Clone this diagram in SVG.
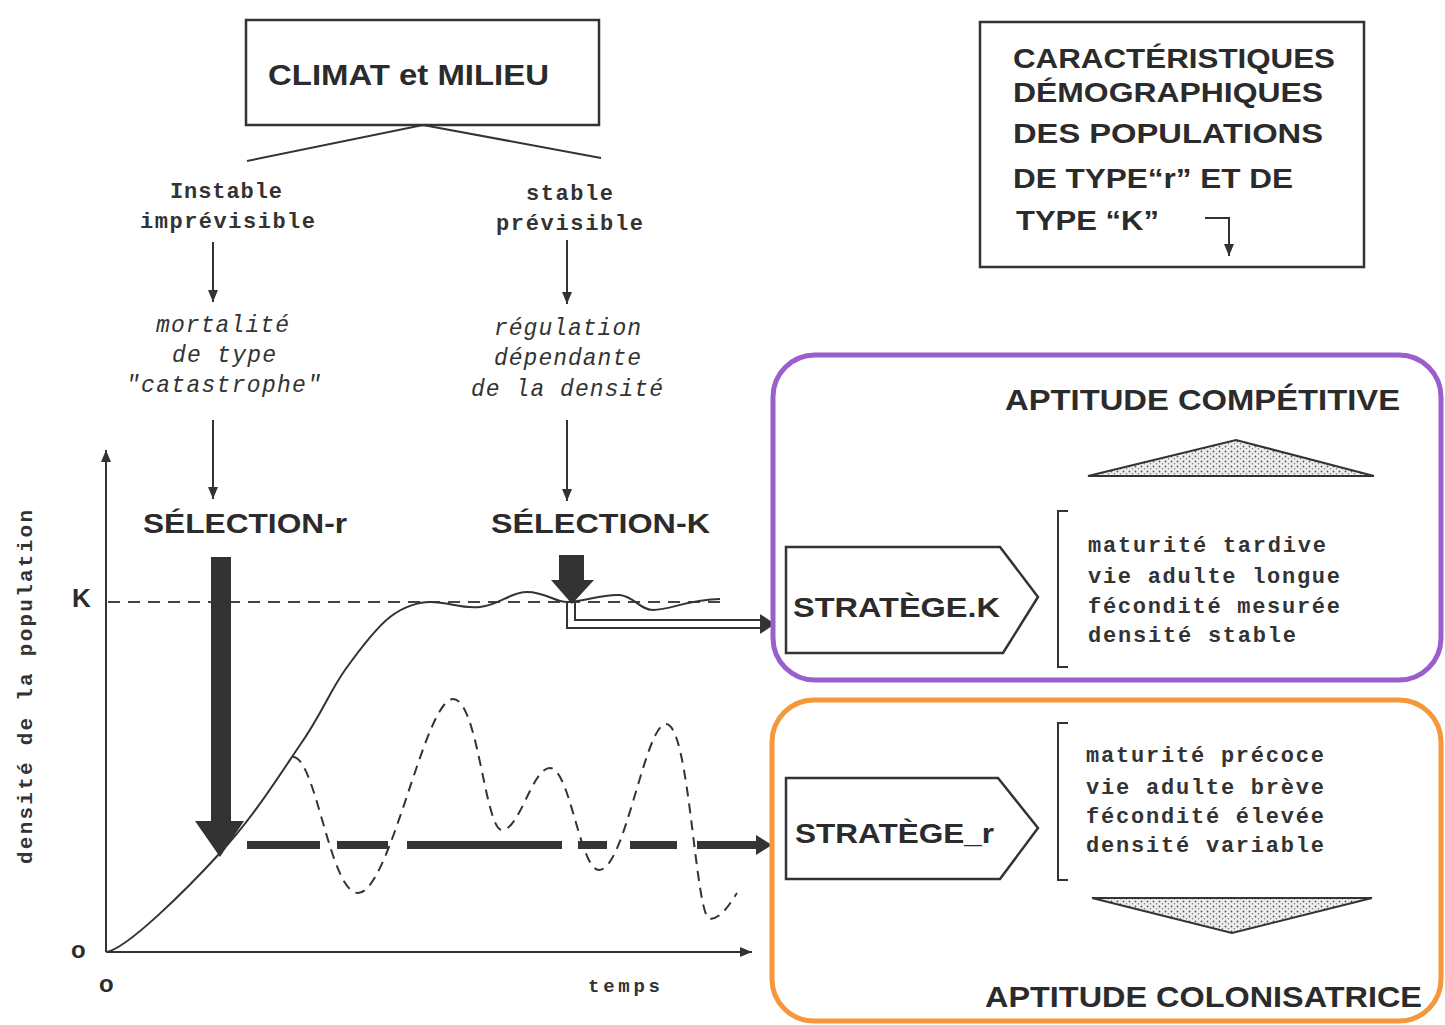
<svg xmlns="http://www.w3.org/2000/svg" width="1445" height="1025" viewBox="0 0 1445 1025">
<style>
.box{fill:none;stroke:#333;stroke-width:2.5}
.hd{font-family:"Liberation Sans",Arial,sans-serif;font-weight:bold;fill:#2b2b2b}
.mono{font-family:"Liberation Mono","Courier New",monospace;font-weight:bold;fill:#333}
.it{font-family:"Liberation Mono","Courier New",monospace;font-style:italic;fill:#333}
.ln{stroke:#333;stroke-width:2;fill:none}
.dark{fill:#333;stroke:none}
</style>
<defs>
<marker id="ah" markerUnits="userSpaceOnUse" markerWidth="14" markerHeight="12" refX="12" refY="6" orient="auto">
<path d="M0,1 L12,6 L0,11 z" fill="#333"/>
</marker>
<pattern id="dots" width="6" height="5" patternUnits="userSpaceOnUse">
<rect width="6" height="5" fill="#eeeeee"/>
<circle cx="1.5" cy="1.5" r="0.9" fill="#555"/>
<circle cx="4.5" cy="3.8" r="0.8" fill="#777"/>
</pattern>
</defs>
<rect width="1445" height="1025" fill="#ffffff"/>

<g id="climat">
<rect class="box" x="246" y="20" width="353" height="105"/>
<text class="hd" x="268" y="85" font-size="29" textLength="281" lengthAdjust="spacingAndGlyphs">CLIMAT et MILIEU</text>
</g>

<g id="instable">
<text class="mono" x="170" y="198" font-size="22" textLength="112" lengthAdjust="spacing">Instable</text>
<text class="mono" x="140" y="228" font-size="22" textLength="175" lengthAdjust="spacing">imprévisible</text>
</g>
<g id="stable">
<text class="mono" x="526" y="200" font-size="22" textLength="87" lengthAdjust="spacing">stable</text>
<text class="mono" x="496" y="230" font-size="22" textLength="147" lengthAdjust="spacing">prévisible</text>
</g>
<g id="mortalite">
<text class="it" x="156" y="332" font-size="23" textLength="133" lengthAdjust="spacing">mortalité</text>
<text class="it" x="172" y="362" font-size="23" textLength="104" lengthAdjust="spacing">de type</text>
<text class="it" x="126" y="392" font-size="23" textLength="195" lengthAdjust="spacing">"catastrophe"</text>
</g>
<g id="regulation">
<text class="it" x="494" y="335" font-size="23" textLength="147" lengthAdjust="spacing">régulation</text>
<text class="it" x="494" y="365" font-size="23" textLength="147" lengthAdjust="spacing">dépendante</text>
<text class="it" x="471" y="396" font-size="23" textLength="192" lengthAdjust="spacing">de la densité</text>
</g>
<g id="selection-r">
<text class="hd" x="143" y="533" font-size="27" textLength="204" lengthAdjust="spacingAndGlyphs">SÉLECTION-r</text>
</g>
<g id="selection-k">
<text class="hd" x="491" y="533" font-size="27" textLength="219" lengthAdjust="spacingAndGlyphs">SÉLECTION-K</text>
</g>

<g id="caracteristiques">
<rect class="box" x="980" y="22" width="384" height="245"/>
<text class="hd" font-size="27">
<tspan x="1013" y="68" textLength="322" lengthAdjust="spacingAndGlyphs">CARACTÉRISTIQUES</tspan>
<tspan x="1013" y="102" textLength="310" lengthAdjust="spacingAndGlyphs">DÉMOGRAPHIQUES</tspan>
<tspan x="1013" y="143" textLength="310" lengthAdjust="spacingAndGlyphs">DES POPULATIONS</tspan>
<tspan x="1013" y="188" textLength="280" lengthAdjust="spacingAndGlyphs">DE TYPE“r” ET DE</tspan>
<tspan x="1016" y="230" textLength="143" lengthAdjust="spacingAndGlyphs">TYPE “K”</tspan>
</text>
<path class="ln" d="M1205,218 H1229 V256" marker-end="url(#ah)"/>
</g>

<g id="graph">
<line class="ln" x1="106" y1="952" x2="106" y2="450" marker-end="url(#ah)"/>
<line class="ln" x1="106" y1="952" x2="752" y2="952" marker-end="url(#ah)"/>
<line x1="108" y1="602" x2="720" y2="602" stroke="#444" stroke-width="2" stroke-dasharray="12,8"/>
<text class="hd" x="72" y="607" font-size="26">K</text>
<text class="hd" x="71" y="958" font-size="24">o</text>
<text class="hd" x="99" y="992" font-size="24">o</text>
<text class="mono" x="588" y="992" font-size="19" font-weight="normal" textLength="72" lengthAdjust="spacing">temps</text>
<text class="mono" font-size="21" font-weight="normal" transform="translate(32,864) rotate(-90)" textLength="354" lengthAdjust="spacing">densité de la population</text>
<path class="ln" d="M106,952 C126,950 188,888 220,853 C252,819 279,776 300,745 C321,715 330,691 345,670 C360,649 376,628 390,617 C404,606 420,602 430,602 C450,602 460,609 480,607 C500,605 510,592 527,592 C545,592 555,602 567,602 C585,602 600,594 620,595 C635,597 640,610 653,610 C670,610 690,599 720,599"/>
<path class="ln" stroke-dasharray="10,7" d="M293,757 C316,757 330,893 358,893 C390,893 425,699 453,699 C478,699 485,830 502,830 C520,830 532,768 550,768 C570,768 580,870 599,870 C625,870 645,724 666,724 C690,724 695,919 710,919 C722,919 732,900 737,893"/>
</g>

<g id="connectors">
<line class="ln" x1="213" y1="242" x2="213" y2="302" marker-end="url(#ah)"/>
<line class="ln" x1="567" y1="240" x2="567" y2="304" marker-end="url(#ah)"/>
<line class="ln" x1="213" y1="420" x2="213" y2="499" marker-end="url(#ah)"/>
<line class="ln" x1="567" y1="420" x2="567" y2="501" marker-end="url(#ah)"/>
<path class="ln" d="M247,161 L423,125 L601,158"/>
<polygon class="dark" points="211,557 231,557 231,821 244,821 220,857 195,821 211,821"/>
<polygon class="dark" points="559,555 584,555 584,580 594,580 572,604 551,580 559,580"/>
<path class="ln" d="M567,603 V628 H764"/>
<path class="ln" d="M575,603 V620 H764"/>
<polygon class="dark" points="760,614 775,624 760,634"/>
<g stroke="#353535" stroke-width="8">
<line x1="247" y1="845" x2="320" y2="845"/>
<line x1="337" y1="845" x2="388" y2="845"/>
<line x1="407" y1="845" x2="562" y2="845"/>
<line x1="578" y1="845" x2="607" y2="845"/>
<line x1="630" y1="845" x2="677" y2="845"/>
<line x1="697" y1="845" x2="760" y2="845"/>
</g>
<polygon class="dark" points="756,835 772,845 756,855"/>
</g>

<g id="strategie-k">
<rect x="773" y="355" width="668" height="325" rx="42" fill="none" stroke="#9a5fcc" stroke-width="5"/>
<text class="hd" x="1005" y="410" font-size="30" textLength="395" lengthAdjust="spacingAndGlyphs">APTITUDE COMPÉTITIVE</text>
<polygon points="1088,476 1236,440 1374,476" fill="url(#dots)" stroke="#333" stroke-width="2"/>
<polygon class="box" points="786,547 1000,547 1038,597 1003,653 786,653"/>
<text class="hd" x="793" y="617" font-size="28" textLength="207" lengthAdjust="spacingAndGlyphs">STRATÈGE.K</text>
<path class="ln" d="M1068,511 H1058 V667 H1068"/>
<text class="mono" x="1088" y="552" font-size="22" textLength="238" lengthAdjust="spacing">maturité tardive</text>
<text class="mono" x="1088" y="583" font-size="22" textLength="252" lengthAdjust="spacing">vie adulte longue</text>
<text class="mono" x="1088" y="613" font-size="22" textLength="252" lengthAdjust="spacing">fécondité mesurée</text>
<text class="mono" x="1088" y="642" font-size="22" textLength="208" lengthAdjust="spacing">densité stable</text>
</g>

<g id="strategie-r">
<rect x="772" y="700" width="669" height="321" rx="42" fill="none" stroke="#f5973a" stroke-width="5"/>
<polygon class="box" points="786,778 998,778 1038,828 1000,879 786,879"/>
<text class="hd" x="795" y="843" font-size="28" textLength="199" lengthAdjust="spacingAndGlyphs">STRATÈGE_r</text>
<path class="ln" d="M1068,723 H1058 V880 H1068"/>
<text class="mono" x="1086" y="762" font-size="22" textLength="238" lengthAdjust="spacing">maturité précoce</text>
<text class="mono" x="1086" y="794" font-size="22" textLength="238" lengthAdjust="spacing">vie adulte brève</text>
<text class="mono" x="1086" y="823" font-size="22" textLength="238" lengthAdjust="spacing">fécondité élevée</text>
<text class="mono" x="1086" y="852" font-size="22" textLength="238" lengthAdjust="spacing">densité variable</text>
<polygon points="1092,898 1372,898 1232,933" fill="url(#dots)" stroke="#333" stroke-width="2"/>
<text class="hd" x="985" y="1007" font-size="30" textLength="437" lengthAdjust="spacingAndGlyphs">APTITUDE COLONISATRICE</text>
</g>
</svg>
